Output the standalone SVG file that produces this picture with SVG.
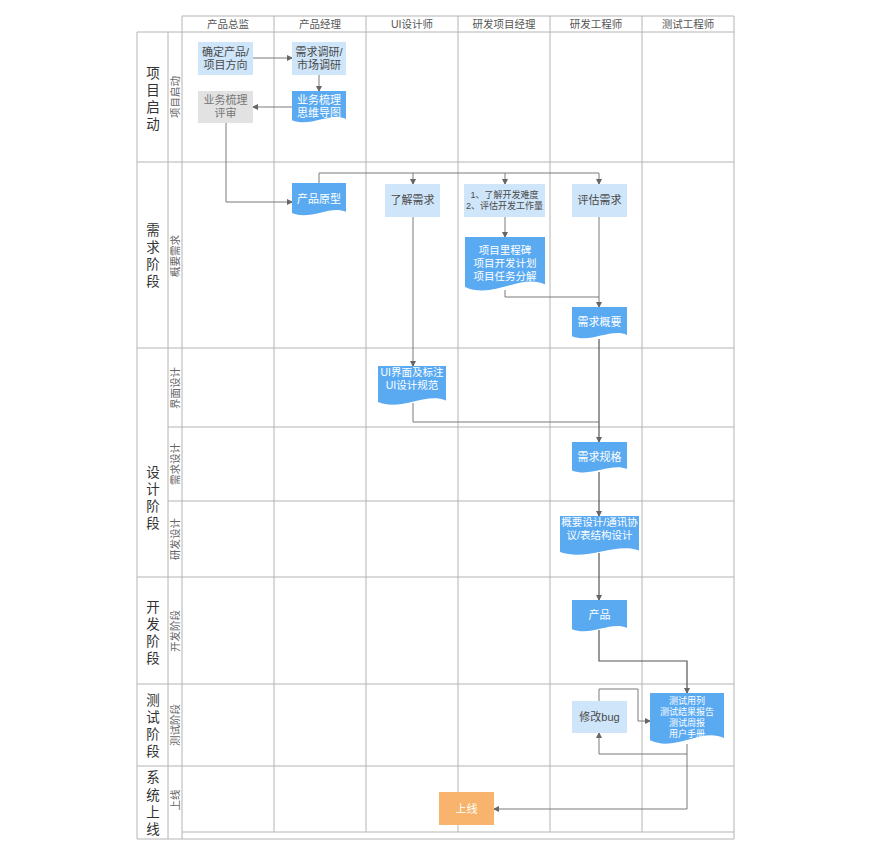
<svg xmlns="http://www.w3.org/2000/svg" xmlns:xlink="http://www.w3.org/1999/xlink" width="892" height="852" viewBox="0 0 892 852">
<style>
text{font-family:'Liberation Sans','Noto Sans CJK SC',sans-serif;}
.grid line{stroke:#b4b4b4;stroke-width:1;}
.hdr{font-size:10.5px;fill:#555;text-anchor:middle;}
.phase{font-size:13.5px;fill:#333;text-anchor:middle;}
.sub{font-size:10.5px;fill:#666;text-anchor:middle;}
.lb{fill:#cfe5f9;}
.db{fill:#5aaaf2;}
.gr{fill:#e2e2e2;}
.or{fill:#f8b46c;}
.t{font-size:11px;fill:#4a4a4a;text-anchor:middle;}
.tw{font-size:11px;fill:#fff;text-anchor:middle;}
.tg{font-size:11px;fill:#777;text-anchor:middle;}
.conn path{fill:none;stroke:#7a7a7a;stroke-width:1;}
.conn path.dk{stroke:#555;stroke-width:1.2;}
</style>
<defs>
<path id="doc" d="M0,0 H1 V0.82 C0.7,0.62 0.35,1.08 0,0.86 Z"/>
<marker id="ar" markerWidth="6" markerHeight="6" refX="5" refY="3" orient="auto" markerUnits="userSpaceOnUse">
<path d="M0,0 L6,3 L0,6 Z" fill="#666"/>
</marker>
</defs>
<rect width="892" height="852" fill="#fff"/>
<g id="grid" class="grid">
<line x1="182" y1="16" x2="734" y2="16"/>
<line x1="137" y1="32" x2="734" y2="32"/>
<line x1="137" y1="162" x2="734" y2="162"/>
<line x1="137" y1="348" x2="734" y2="348"/>
<line x1="168" y1="427" x2="734" y2="427"/>
<line x1="168" y1="501" x2="734" y2="501"/>
<line x1="137" y1="577" x2="734" y2="577"/>
<line x1="137" y1="684" x2="734" y2="684"/>
<line x1="137" y1="766" x2="734" y2="766"/>
<line x1="182" y1="832" x2="734" y2="832"/>
<line x1="137" y1="839" x2="734" y2="839"/>
<line x1="137" y1="32" x2="137" y2="839"/>
<line x1="168" y1="32" x2="168" y2="839"/>
<line x1="182" y1="16" x2="182" y2="839"/>
<line x1="274" y1="16" x2="274" y2="832"/>
<line x1="366" y1="16" x2="366" y2="832"/>
<line x1="458" y1="16" x2="458" y2="832"/>
<line x1="550" y1="16" x2="550" y2="832"/>
<line x1="642" y1="16" x2="642" y2="832"/>
<line x1="734" y1="16" x2="734" y2="839"/>
</g>
<g id="headers">
<text class="hdr" x="228" y="28">产品总监</text>
<text class="hdr" x="320" y="28">产品经理</text>
<text class="hdr" x="412" y="28">UI设计师</text>
<text class="hdr" x="504" y="28">研发项目经理</text>
<text class="hdr" x="596" y="28">研发工程师</text>
<text class="hdr" x="688" y="28">测试工程师</text>
</g>
<g id="phases">
<text class="phase" x="153" y="78">项</text><text class="phase" x="153" y="95">目</text><text class="phase" x="153" y="112">启</text><text class="phase" x="153" y="129">动</text>
<text class="phase" x="153" y="235">需</text><text class="phase" x="153" y="252">求</text><text class="phase" x="153" y="269">阶</text><text class="phase" x="153" y="286">段</text>
<text class="phase" x="153" y="477">设</text><text class="phase" x="153" y="494">计</text><text class="phase" x="153" y="511">阶</text><text class="phase" x="153" y="528">段</text>
<text class="phase" x="153" y="612">开</text><text class="phase" x="153" y="629">发</text><text class="phase" x="153" y="646">阶</text><text class="phase" x="153" y="663">段</text>
<text class="phase" x="153" y="705">测</text><text class="phase" x="153" y="722">试</text><text class="phase" x="153" y="739">阶</text><text class="phase" x="153" y="756">段</text>
<text class="phase" x="153" y="782">系</text><text class="phase" x="153" y="800">统</text><text class="phase" x="153" y="817">上</text><text class="phase" x="153" y="834">线</text>
</g>
<g id="sublabels">
<text class="sub" transform="translate(179,97) rotate(-90)">项目启动</text>
<text class="sub" transform="translate(179,256) rotate(-90)">概要需求</text>
<text class="sub" transform="translate(179,388) rotate(-90)">界面设计</text>
<text class="sub" transform="translate(179,464) rotate(-90)">需求设计</text>
<text class="sub" transform="translate(179,539) rotate(-90)">研发设计</text>
<text class="sub" transform="translate(179,631) rotate(-90)">开发阶段</text>
<text class="sub" transform="translate(179,725) rotate(-90)">测试阶段</text>
<text class="sub" transform="translate(179,800) rotate(-90)">上线</text>
</g>
<g id="connectors" class="conn">
<path d="M253,58 H292" marker-end="url(#ar)"/>
<path d="M319,75 V91" marker-end="url(#ar)"/>
<path d="M292,107 H253" marker-end="url(#ar)"/>
<path d="M226,123 V202 H292" marker-end="url(#ar)"/>
<path d="M319,183 V173 H599 V184" marker-end="url(#ar)"/>
<path d="M413,173 V184" marker-end="url(#ar)"/>
<path d="M505,173 V184" marker-end="url(#ar)"/>
<path d="M413,217 V366" marker-end="url(#ar)"/>
<path d="M505,217 V237" marker-end="url(#ar)"/>
<path d="M505,290 V297 H599"/>
<path d="M599,217 V307" marker-end="url(#ar)"/>
<path class="dk" d="M599,339 V442" marker-end="url(#ar)"/>
<path d="M413,403 V422 H599"/>
<path class="dk" d="M599,472 V516" marker-end="url(#ar)"/>
<path class="dk" d="M599,553 V600" marker-end="url(#ar)"/>
<path class="dk" d="M599,630 V661 H687 V693" marker-end="url(#ar)"/>
<path d="M599,701 V689 H638 V721 H650" marker-end="url(#ar)"/>
<path d="M687,744 V754 H599 V733" marker-end="url(#ar)"/>
<path d="M687,754 V809 H494" marker-end="url(#ar)"/>
</g>
<g id="n1"><rect class="lb" x="198" y="42" width="55" height="33"/><text class="t" x="225.5" y="56">确定产品/</text><text class="t" x="225.5" y="69">项目方向</text></g>
<g id="n2"><rect class="lb" x="292" y="42" width="54" height="33"/><text class="t" x="319" y="56">需求调研/</text><text class="t" x="319" y="69">市场调研</text></g>
<g id="n3"><use xlink:href="#doc" class="db" transform="translate(292,91) scale(54,34)"/><text class="tw" x="319" y="104">业务梳理</text><text class="tw" x="319" y="117">思维导图</text></g>
<g id="n4"><rect class="gr" x="198" y="91" width="55" height="32"/><text class="tg" x="225.5" y="104">业务梳理</text><text class="tg" x="225.5" y="117">评审</text></g>
<g id="n5"><use xlink:href="#doc" class="db" transform="translate(292,183) scale(54,35)"/><text class="tw" x="319" y="203">产品原型</text></g>
<g id="n6"><rect class="lb" x="385" y="184" width="55" height="33"/><text class="t" x="412.5" y="204">了解需求</text></g>
<g id="n7"><rect class="lb" x="464" y="184" width="81" height="33"/><text class="t" style="font-size:9px" x="504.5" y="198">1、了解开发难度</text><text class="t" style="font-size:9px" x="504.5" y="209">2、评估开发工作量</text></g>
<g id="n8"><rect class="lb" x="572" y="184" width="55" height="33"/><text class="t" x="599.5" y="204">评估需求</text></g>
<g id="n9"><use xlink:href="#doc" class="db" transform="translate(465,237) scale(80,58)"/><text class="tw" style="font-size:10.5px" x="505" y="254">项目里程碑</text><text class="tw" style="font-size:10.5px" x="505" y="267">项目开发计划</text><text class="tw" style="font-size:10.5px" x="505" y="280">项目任务分解</text></g>
<g id="n10"><use xlink:href="#doc" class="db" transform="translate(572,307) scale(55,34)"/><text class="tw" x="599.5" y="326">需求概要</text></g>
<g id="n11"><use xlink:href="#doc" class="db" transform="translate(378,366) scale(68,42)"/><text class="tw" style="font-size:10.5px" x="412" y="376">UI界面及标注</text><text class="tw" style="font-size:10.5px" x="412" y="389">UI设计规范</text></g>
<g id="n12"><use xlink:href="#doc" class="db" transform="translate(572,442) scale(55,33)"/><text class="tw" x="599.5" y="461">需求规格</text></g>
<g id="n13"><use xlink:href="#doc" class="db" transform="translate(560,516) scale(79,42)"/><text class="tw" style="font-size:10.5px" x="599.5" y="526">概要设计/通讯协</text><text class="tw" style="font-size:10.5px" x="599.5" y="539">议/表结构设计</text></g>
<g id="n14"><use xlink:href="#doc" class="db" transform="translate(572,600) scale(55,34)"/><text class="tw" x="599.5" y="619">产品</text></g>
<g id="n15"><use xlink:href="#doc" class="db" transform="translate(650,693) scale(74,55)"/><text class="tw" style="font-size:9px" x="687" y="704">测试用列</text><text class="tw" style="font-size:9px" x="687" y="715">测试结果报告</text><text class="tw" style="font-size:9px" x="687" y="726">测试周报</text><text class="tw" style="font-size:9px" x="687" y="737">用户手册</text></g>
<g id="n16"><rect class="lb" x="572" y="701" width="55" height="32"/><text class="t" x="599.5" y="721">修改bug</text></g>
<g id="n17"><rect class="or" x="439" y="792" width="55" height="33"/><text class="tw" x="466.5" y="813">上线</text></g>
</svg>
